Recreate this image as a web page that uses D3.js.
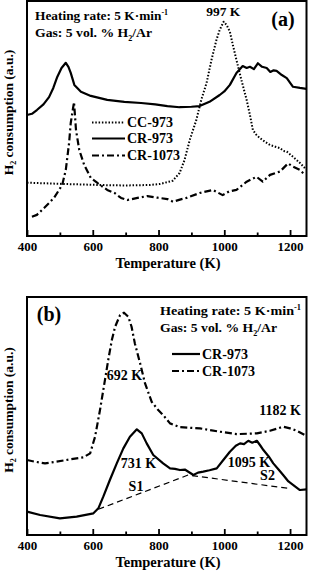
<!DOCTYPE html>
<html>
<head>
<meta charset="utf-8">
<script src="https://cdn.jsdelivr.net/npm/d3@7"></script>
<style>
  body { margin: 0; background: #fff; }
  text { font-family: "Liberation Serif", "Times New Roman", serif; font-weight: bold; fill: #000; }
</style>
</head>
<body>
<script>
// temperature ticks (K)
const majorTicks = [400, 600, 800, 1000, 1200];
const minorTicks = [500, 700, 900, 1100];

// panel (a): [T (K), H2 consumption (a.u.)]
const aCC973 = [[400,2.27],[500,2.22],[620,2.17],[700,2.15],[772,2.17],[803,2.21],[843,2.35],[864,2.68],[879,3.23],
  [895,4.09],[915,4.94],[930,5.79],[946,6.51],[961,7.49],[976,8.34],[986,8.77],[998,9.12],[1007,8.98],
  [1017,8.69],[1026,8.13],[1037,7.49],[1052,6.64],[1068,5.79],[1078,5.15],[1087,4.51],[1098,4.3],[1108,4.17],
  [1125,4.0],[1139,3.87],[1155,3.8],[1169,3.74],[1180,3.62],[1190,3.59],[1209,3.37],[1230,3.11],[1245,2.89]];
const aCR973 = [[400,5.15],[415,5.2],[430,5.36],[450,5.6],[467,5.91],[480,6.3],[492,6.77],[505,7.15],[518,7.37],
  [526,7.2],[533,6.94],[544,6.43],[564,6.14],[594,5.96],[644,5.79],[696,5.71],[747,5.66],[790,5.6],[827,5.53],
  [864,5.48],[900,5.5],[925,5.53],[955,5.71],[986,6.0],[1000,6.15],[1017,6.43],[1037,6.94],[1056,7.23],
  [1068,7.15],[1078,7.2],[1090,7.1],[1102,7.35],[1115,7.2],[1129,7.15],[1140,6.98],[1150,7.05],[1159,7.03],
  [1175,6.85],[1190,6.72],[1209,6.35],[1230,6.3],[1250,6.26]];
const aCR1073 = [[415,0.82],[430,0.9],[452,1.19],[482,1.62],[507,2.17],[518,2.81],[528,3.96],[533,4.81],
  [543,5.7],[549,4.51],[559,3.66],[574,3.02],[594,2.47],[614,2.26],[644,1.96],[666,1.83],[686,1.62],
  [705,1.53],[736,1.62],[766,1.7],[797,1.63],[827,1.57],[844,1.46],[865,1.55],[885,1.62],[925,1.83],
  [965,1.96],[995,1.74],[1015,1.9],[1037,1.96],[1068,2.31],[1098,2.52],[1117,2.31],[1139,2.6],
  [1169,2.74],[1194,3.09],[1209,2.95],[1230,2.81],[1245,2.6]];

// panel (b)
const bCR973 = [[400,0.98],[440,0.84],[500,0.7],[551,0.77],[602,0.91],[617,1.12],[632,1.61],[652,2.31],
  [673,3.01],[693,3.64],[713,4.13],[734,4.44],[749,4.27],[764,3.85],[784,3.36],[814,3.01],[835,2.8],
  [850,2.78],[865,2.73],[880,2.75],[906,2.52],[920,2.62],[936,2.66],[955,2.72],[977,2.8],[997,3.15],
  [1017,3.5],[1035,3.75],[1048,3.85],[1060,3.82],[1073,3.96],[1085,3.88],[1099,3.96],[1110,3.75],
  [1119,3.57],[1135,3.3],[1149,3.01],[1165,2.75],[1179,2.52],[1195,2.25],[1210,2.1],[1230,1.89],[1250,1.92]];
const bCR1073 = [[400,3.15],[424,3.08],[455,3.01],[490,3.08],[531,3.18],[571,3.26],[592,3.43],[607,4.13],
  [622,5.25],[627,5.67],[637,6.51],[647,7.35],[658,8.19],[668,8.75],[683,9.24],[695,9.34],[708,9.17],
  [718,8.75],[728,8.05],[744,7.21],[759,6.37],[779,5.6],[799,5.25],[814,5.04],[835,4.69],[865,4.53],
  [926,4.48],[987,4.34],[1038,4.24],[1099,4.27],[1139,4.38],[1179,4.55],[1200,4.48],[1220,4.38],[1245,4.2]];
const bBaseline = [[617,1.08],[890,2.52],[1200,1.95]];

const svg = d3.select('body').append('svg')
  .attr('width', 311)
  .attr('height', 573);

const x0 = 27, x1 = 306.5;
const line = (x, y) => d3.line().x(d => x(d[0])).y(d => y(d[1]));

function drawPanel(top, bottom, series) {
  const x = d3.scaleLinear().domain([400, 1250]).range([x0, x1]);
  const y = d3.scaleLinear().domain([0, 10]).range([bottom, top]);
  const g = svg.append('g');

  series.forEach(s => {
    g.append('path')
      .datum(s.data)
      .attr('d', line(x, y))
      .attr('fill', 'none')
      .attr('stroke', '#000')
      .attr('stroke-width', s.width || 2.2)
      .attr('stroke-dasharray', s.dash)
      .attr('stroke-linejoin', 'round');
  });

  // inward ticks, major and minor
  const axisMajor = d3.axisBottom(x).tickValues(majorTicks).tickSize(-6).tickPadding(6).tickFormat(d3.format('d'));
  const axisMinor = d3.axisBottom(x).tickValues(minorTicks).tickSize(-3.5).tickFormat('');
  [axisMajor, axisMinor].forEach(ax => {
    const a = g.append('g').attr('transform', `translate(0,${bottom})`).call(ax);
    a.select('.domain').remove();
    a.selectAll('line').attr('stroke', '#000').attr('stroke-width', 1.8);
    a.selectAll('text').attr('font-size', 13).attr('font-family', null).attr('fill', '#000');
  });

  g.append('rect')
    .attr('x', x0).attr('y', top)
    .attr('width', x1 - x0).attr('height', bottom - top)
    .attr('fill', 'none').attr('stroke', '#000').attr('stroke-width', 2);

  g.append('text')
    .attr('x', 168).attr('y', bottom + 32)
    .attr('text-anchor', 'middle').attr('font-size', 14.5)
    .text('Temperature (K)');

  const yl = g.append('text')
    .attr('transform', `translate(13,${(top + bottom) / 2 - 6}) rotate(-90)`)
    .attr('text-anchor', 'middle').attr('font-size', 13.5);
  yl.append('tspan').text('H');
  yl.append('tspan').attr('font-size', 8).attr('dy', 3).text('2');
  yl.append('tspan').attr('dy', -3).text(' consumption (a.u.)');

  return {x, y, g};
}

function conditions(g, xs, yBase, w1, w2) {
  const t1 = g.append('text').attr('x', xs).attr('y', yBase).attr('font-size', 13.5)
    .attr('textLength', w1).attr('lengthAdjust', 'spacingAndGlyphs');
  t1.append('tspan').text('Heating rate: 5 K·min');
  t1.append('tspan').attr('font-size', 8).attr('dy', -5.5).text('-1');
  const t2 = g.append('text').attr('x', xs).attr('y', yBase + 17).attr('font-size', 13.5)
    .attr('textLength', w2).attr('lengthAdjust', 'spacingAndGlyphs');
  t2.append('tspan').text('Gas: 5 vol. % H');
  t2.append('tspan').attr('font-size', 8).attr('dy', 3.5).text('2');
  t2.append('tspan').attr('dy', -3.5).text('/Ar');
}

function legend(g, items, lx, ys) {
  items.forEach((it, i) => {
    g.append('line')
      .attr('x1', lx[0]).attr('x2', lx[1]).attr('y1', ys[i]).attr('y2', ys[i])
      .attr('stroke', '#000').attr('stroke-width', it.width || 2.2)
      .attr('stroke-dasharray', it.dash);
    g.append('text')
      .attr('x', lx[1] + 2).attr('y', ys[i] + 4.5)
      .attr('font-size', 14).text(it.name);
  });
}

// panel (a)
const dotted = '1.5 1.8', dashDot = '7 3 2 3';
const pa = drawPanel(1, 236, [
  {data: aCC973, dash: dotted, width: 2},
  {data: aCR973, dash: null},
  {data: aCR1073, dash: dashDot}
]);
conditions(pa.g, 35, 20, 133, 117);
pa.g.append('text').attr('x', pa.x(997)).attr('y', 16).attr('text-anchor', 'middle')
  .attr('font-size', 13.5).text('997 K');
pa.g.append('text').attr('x', 283).attr('y', 26).attr('text-anchor', 'middle')
  .attr('font-size', 20).text('(a)');
legend(pa.g, [
  {name: 'CC-973', dash: dotted, width: 2},
  {name: 'CR-973', dash: null},
  {name: 'CR-1073', dash: dashDot}
], [92, 125], [122.5, 138.5, 155.5]);

// panel (b)
const pb = drawPanel(297, 535, [
  {data: bCR1073, dash: dashDot},
  {data: bCR973, dash: null},
  {data: bBaseline, dash: '6 4', width: 1.2}
]);
conditions(pb.g, 160, 315, 141, 117);
pb.g.append('text').attr('x', 49).attr('y', 321).attr('text-anchor', 'middle')
  .attr('font-size', 20).text('(b)');
legend(pb.g, [
  {name: 'CR-973', dash: null},
  {name: 'CR-1073', dash: dashDot}
], [172, 200], [354, 371]);

const notes = [
  {t: '692 K', x: 124.5, y: 380},
  {t: '1182 K', x: 280, y: 415},
  {t: '731 K', x: 138.5, y: 468},
  {t: 'S1', x: 136, y: 491},
  {t: '1095 K', x: 249, y: 467},
  {t: 'S2', x: 267.5, y: 480}
];
notes.forEach(n => {
  pb.g.append('text').attr('x', n.x).attr('y', n.y).attr('text-anchor', 'middle')
    .attr('font-size', 14).text(n.t);
});
</script>
</body>
</html>
